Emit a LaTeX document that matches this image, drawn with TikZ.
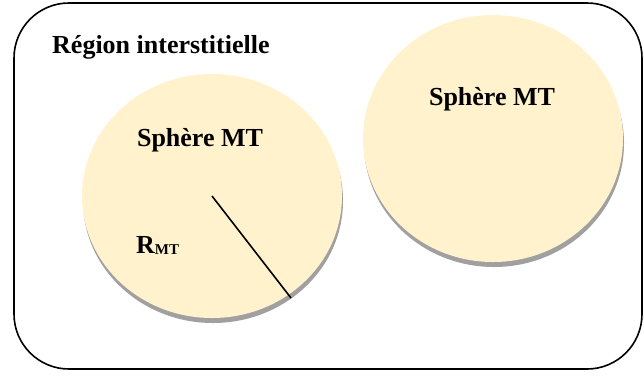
\documentclass[tikz,border=0pt]{standalone}
\usepackage{fontspec}
\setmainfont{Liberation Serif}
\usetikzlibrary{shapes.geometric,shadows}
\definecolor{sphfill}{HTML}{FFF2CC}
\definecolor{sphshadow}{HTML}{A0A0A0}
\tikzset{
  sphere/.style={ellipse, fill=sphfill, inner sep=0pt,
    general shadow={shadow xshift=1pt, shadow yshift=-5pt, fill=sphshadow}},
  lbl/.style={font=\fontsize{26}{26}\selectfont\bfseries, inner sep=0pt},
  frame/.style={draw=black, line width=1.6pt, rounded corners=55pt}
}
\begin{document}
\begin{tikzpicture}[x=1pt,y=-1pt]
\useasboundingbox (0,0) rectangle (644,376);
\draw[frame] (14,3) rectangle (642,369);
\node[sphere, minimum width=260pt, minimum height=244pt] (L) at (212,196) {};
\node[sphere, minimum width=260pt, minimum height=247pt] (R) at (493,138.5) {};
\coordinate (rEnd) at (291,298);
\draw[line width=1.6pt] (L.center) -- (rEnd);
\node[lbl, anchor=base west] (title) at (52,53) {Région interstitielle};
\node[lbl, anchor=base] (sL) at (200,146) {Sphère MT};
\node[lbl, anchor=base] (sR) at (492,105) {Sphère MT};
\node[lbl, anchor=base west] (rmt) at (136,253) {R\raisebox{-1pt}{\fontsize{15}{15}\selectfont MT}};
\end{tikzpicture}
\end{document}
